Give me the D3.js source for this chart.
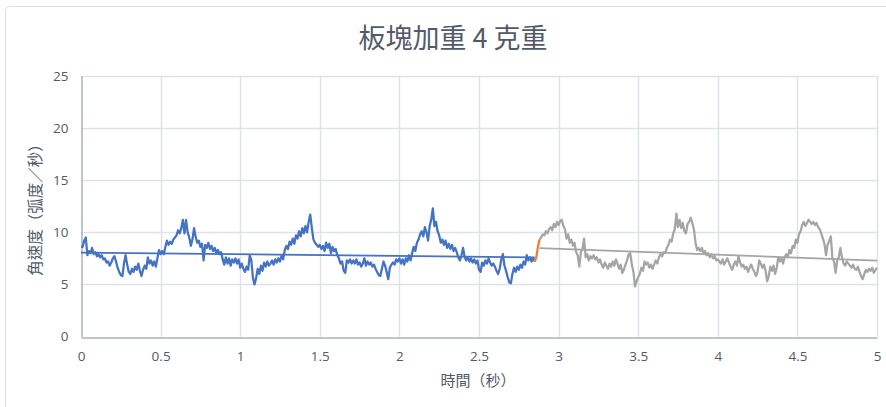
<!DOCTYPE html>
<html>
<head>
<meta charset="utf-8">
<script src="https://cdn.jsdelivr.net/npm/d3@7"></script>
<style>
  body { margin: 0; background: #fff; }
  text { font-family: "Noto Sans CJK TC", "Noto Sans", sans-serif; }
</style>
</head>
<body>
<svg></svg>
<script>
var width = 886;
var height = 407;

// sampling: one reading every 0.01 s
var sampleStep = 0.01;

// blue series, t = 0.00 .. 2.85
var blueStart = 0;
var blueValues = [
  8.6, 8.6, 9.2, 9.5, 7.8, 8.2, 8.0, 8.5, 7.9, 8.1,
  7.7, 7.9, 7.6, 7.8, 7.4, 7.5, 7.1, 7.2, 6.8, 7.1,
  7.5, 7.7, 7.2, 6.6, 6.2, 5.9, 5.8, 7.0, 7.8, 6.9,
  6.2, 6.0, 6.5, 6.2, 6.7, 6.4, 7.0, 6.3, 5.8, 6.4,
  6.8, 6.5, 7.6, 7.0, 7.3, 6.8, 7.2, 6.7, 7.5, 8.3,
  7.9, 8.2, 7.9, 8.6, 9.2, 8.8, 9.1, 8.9, 9.3, 9.5,
  9.7, 10.2, 9.9, 10.4, 11.2, 9.9, 11.2, 10.0, 9.5, 8.7,
  9.3, 10.4, 9.6, 9.0, 9.2, 8.6, 8.9, 7.3, 8.8, 8.5,
  9.0, 8.4, 8.7, 8.2, 8.5, 8.0, 8.3, 7.9, 8.1, 7.4,
  6.9, 7.6, 7.0, 7.5, 6.8, 7.4, 7.1, 7.5, 7.0, 7.4,
  6.6, 7.0, 6.5, 6.2, 6.7, 6.4, 7.8, 7.3, 5.6, 5.0,
  5.6, 6.5, 6.0, 6.8, 6.3, 7.1, 6.7, 7.2, 6.8, 7.0,
  7.3, 6.9, 7.4, 7.1, 7.5, 7.2, 7.8, 7.4, 8.3, 8.7,
  8.4, 9.1, 8.8, 9.4, 8.9, 9.7, 9.4, 10.1, 9.6, 10.4,
  9.9, 10.6, 10.0, 11.0, 11.7, 10.4, 9.3, 9.0, 8.8, 8.6,
  8.8, 8.4, 8.7, 8.2, 9.0, 8.5, 8.9, 8.0, 8.6, 8.2,
  8.4, 7.8, 7.5, 7.0, 7.2, 6.3, 6.1, 7.3, 7.1, 7.4,
  7.0, 7.3, 7.0, 7.4, 6.9, 7.1, 6.7, 7.0, 7.5, 6.8,
  7.2, 6.9, 7.1, 6.7, 6.9, 6.5, 6.2, 5.9, 5.8, 6.5,
  7.2, 6.8, 6.2, 5.5, 6.6, 6.9, 7.1, 6.9, 7.4, 7.2,
  7.5, 7.0, 7.4, 6.9, 7.5, 7.2, 7.8, 7.3, 8.0, 8.6,
  8.2, 9.0, 9.3, 9.8, 10.1, 9.6, 10.5, 10.0, 9.2, 10.6,
  11.2, 12.3, 10.6, 11.0, 10.1, 9.7, 9.0, 9.3, 8.8, 9.2,
  8.5, 8.9, 8.4, 8.8, 8.2, 8.5, 8.1, 7.6, 7.3, 7.8,
  8.5, 7.6, 7.3, 7.6, 7.2, 7.5, 7.1, 7.4, 7.0, 7.3,
  6.4, 6.2, 7.1, 6.8, 7.3, 7.0, 7.5, 7.1, 6.8, 7.0,
  6.7, 6.3, 6.0, 6.5, 7.4, 7.9, 6.8, 6.3, 5.7, 5.2,
  5.1, 6.0, 6.6, 6.2, 6.7, 6.4, 6.9, 6.6, 7.2, 6.9,
  7.8, 7.3, 7.6, 7.2, 7.5, 7.2
];

// orange series, t = 2.85 .. 2.88
var orangeStart = 2.85;
var orangeValues = [7.2, 7.6, 8.6, 9.3];

// gray series, t = 2.88 .. 5.00
var grayStart = 2.88;
var grayValues = [
  9.3, 9.5, 9.8, 9.7, 10.1, 9.9, 10.3, 10.5, 10.2, 10.8, 10.5, 11.0,
  10.7, 11.1, 11.2, 10.6, 10.3, 9.4, 9.8, 9.0, 9.3, 8.7,
  9.0, 8.1, 7.8, 6.7, 8.1, 8.4, 9.4, 7.6, 7.9, 7.3,
  7.7, 7.5, 7.8, 7.4, 7.6, 7.1, 7.4, 6.9, 6.6, 7.1,
  6.8, 6.5, 7.0, 6.7, 7.2, 6.8, 7.4, 7.0, 6.5, 6.9,
  6.1, 6.4, 6.9, 7.3, 7.9, 8.0, 6.9, 6.2, 4.8, 5.3,
  5.7, 6.0, 6.6, 6.3, 7.2, 6.9, 7.1, 6.6, 6.9, 6.5,
  6.9, 7.3, 7.0, 7.6, 7.9, 7.7, 8.1, 8.0, 8.5, 8.8,
  9.3, 9.1, 9.9, 10.3, 11.8, 10.5, 11.2, 10.4, 10.9, 10.1,
  9.9, 10.8, 11.0, 11.4, 10.9, 10.3, 9.0, 8.3, 8.5, 8.2,
  8.5, 8.0, 8.2, 7.8, 8.0, 7.6, 7.9, 7.5, 7.7, 7.3,
  7.4, 7.2, 7.0, 7.4, 6.9, 7.2, 7.5, 7.1, 6.7, 6.4,
  6.9, 7.2, 6.8, 7.7, 7.1, 6.7, 6.9, 6.5, 6.7, 6.2,
  6.6, 6.9, 6.5, 6.2, 5.8, 6.2, 7.3, 7.0, 6.6, 6.9,
  6.3, 5.3, 5.8, 6.7, 6.3, 6.8, 6.0, 6.6, 7.6, 7.2,
  7.5, 7.0, 7.6, 7.9, 7.6, 8.3, 8.0, 8.7, 8.5, 9.3,
  9.0, 9.8, 10.1, 10.7, 11.0, 10.6, 10.9, 11.2, 11.0, 10.8,
  11.0, 10.7, 10.9, 10.5, 10.3, 9.9, 9.4, 8.9, 7.8, 8.8,
  9.2, 9.6, 7.5, 7.2, 6.1, 7.3, 7.6, 8.5, 7.6, 7.0,
  6.8, 7.2, 7.0, 6.8, 6.6, 6.9, 6.5, 6.4, 6.7, 6.2,
  5.8, 5.5, 6.0, 6.4, 6.2, 6.5, 6.3, 6.6, 6.1, 6.4, 6.6
];

// linear trend lines [time, value]
var blueTrend = [[0, 8.06], [2.85, 7.6]];
var grayTrend = [[2.88, 8.48], [5, 7.29]];

var xTicks = [0, 0.5, 1, 1.5, 2, 2.5, 3, 3.5, 4, 4.5, 5];
var yTicks = [0, 5, 10, 15, 20, 25];

var title = "板塊加重 4 克重";
var xTitle = "時間（秒）";
var yTitle = "角速度（弧度／秒）";

var textColor = "#525a6a";

var svg = d3.select("svg")
    .attr("width", width)
    .attr("height", height);

// chart frame
svg.append("rect")
    .attr("x", 5.5)
    .attr("y", 6.5)
    .attr("width", 900)
    .attr("height", 430)
    .attr("rx", 4)
    .attr("fill", "#fff")
    .attr("stroke", "#dadde2");

var x = d3.scaleLinear().domain([0, 5]).range([81, 877]);
var y = d3.scaleLinear().domain([0, 25]).range([336.5, 76]);

// gridlines
svg.append("g")
    .selectAll("line")
    .data(yTicks.filter(d => d > 0))
    .enter()
    .append("line")
        .attr("x1", x(0))
        .attr("x2", x(5))
        .attr("y1", d => Math.round(y(d)) + 0.5)
        .attr("y2", d => Math.round(y(d)) + 0.5)
        .attr("stroke", "#dde1e8")
        .attr("stroke-width", 1.5);

svg.append("g")
    .selectAll("line")
    .data(xTicks.filter(d => d > 0))
    .enter()
    .append("line")
        .attr("x1", d => Math.round(x(d)) + 0.5)
        .attr("x2", d => Math.round(x(d)) + 0.5)
        .attr("y1", y(0))
        .attr("y2", y(25))
        .attr("stroke", "#dde1e8")
        .attr("stroke-width", 1.5);

// axes
var xAxis = d3.axisBottom(x).tickValues(xTicks).tickSize(0).tickPadding(14).tickFormat(d3.format("~g"));
var yAxis = d3.axisLeft(y).tickValues(yTicks).tickSize(0).tickPadding(13);

var gx = svg.append("g")
    .attr("transform", `translate(0, ${Math.round(y(0)) + 0.5})`)
    .call(xAxis);
var gy = svg.append("g")
    .attr("transform", `translate(${Math.round(x(0)) + 0.5}, 0)`)
    .call(yAxis);

[gx, gy].forEach(g => {
    g.select(".domain").attr("stroke", "#a9b2c3").attr("stroke-width", 1.5);
    g.selectAll("text")
        .attr("fill", textColor)
        .style("font-size", "13.5px")
        .style("font-family", "'Open Sans', 'Noto Sans', sans-serif");
});

// series
function toPoints(start, values) {
    return values.map((v, i) => [start + i * sampleStep, v]);
}

var line = d3.line()
    .x(d => x(d[0]))
    .y(d => y(d[1]));

var series = [
    { pts: toPoints(blueStart, blueValues), color: "#4472c4" },
    { pts: toPoints(grayStart, grayValues), color: "#a5a5a5" },
    { pts: toPoints(orangeStart, orangeValues), color: "#ed7d31" }
];

svg.append("g")
    .selectAll("path")
    .data(series)
    .enter()
    .append("path")
        .attr("d", d => line(d.pts))
        .attr("fill", "none")
        .attr("stroke", d => d.color)
        .attr("stroke-width", 2.25)
        .attr("stroke-linejoin", "round");

// trend lines
svg.append("g")
    .selectAll("path")
    .data([
        { pts: blueTrend, color: "#4472c4" },
        { pts: grayTrend, color: "#a5a5a5" }
    ])
    .enter()
    .append("path")
        .attr("d", d => line(d.pts))
        .attr("fill", "none")
        .attr("stroke", d => d.color)
        .attr("stroke-width", 1.75);

// titles
svg.append("text")
    .attr("x", 453)
    .attr("y", 48)
    .attr("text-anchor", "middle")
    .attr("fill", textColor)
    .style("font-size", "27px")
    .text(title);

svg.append("text")
    .attr("x", 478)
    .attr("y", 386)
    .attr("text-anchor", "middle")
    .attr("fill", textColor)
    .style("font-size", "15px")
    .text(xTitle);

svg.append("text")
    .attr("transform", "translate(41, 206) rotate(-90)")
    .attr("text-anchor", "middle")
    .attr("fill", textColor)
    .style("font-size", "15.5px")
    .text(yTitle);
</script>
</body>
</html>
